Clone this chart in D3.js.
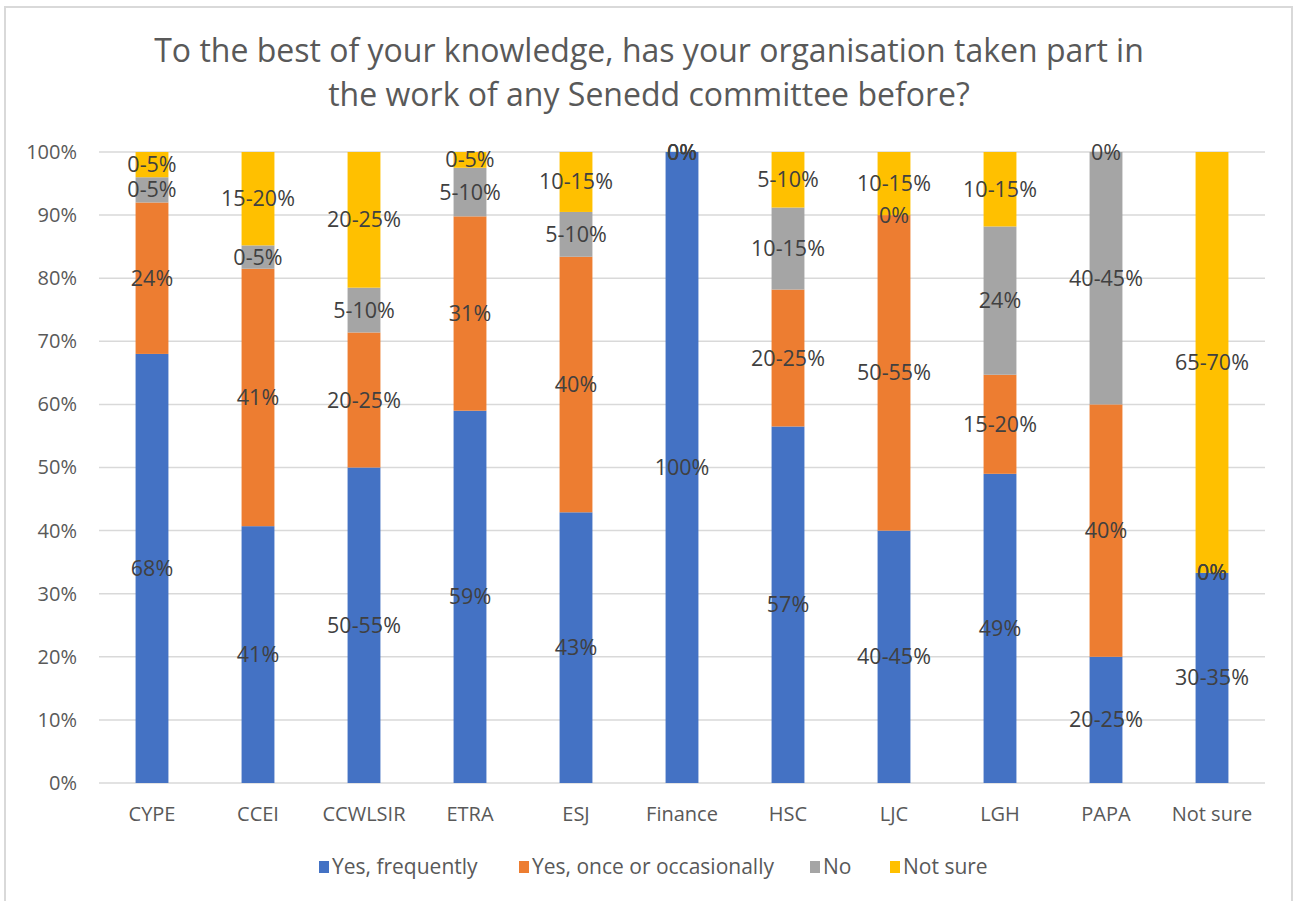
<!DOCTYPE html>
<html>
<head>
<meta charset="utf-8">
<script src="https://cdn.jsdelivr.net/npm/d3@7"></script>
<style>
    html, body { margin: 0; padding: 0; background: #fff; }
    svg { display: block; font-family: "Open Sans", "Noto Sans", sans-serif; }
</style>
</head>
<body>
<svg id="chart" width="1295" height="901"></svg>
<script>
const categories = ['CYPE', 'CCEI', 'CCWLSIR', 'ETRA', 'ESJ', 'Finance', 'HSC', 'LJC', 'LGH', 'PAPA', 'Not sure'];
const seriesNames = ['Yes, frequently', 'Yes, once or occasionally', 'No', 'Not sure'];
const seriesColors = ['#4472c4', '#ed7d31', '#a5a5a5', '#ffc000'];

// share of each answer per committee (%)
const yesFrequently  = [68, 40.7, 50, 59, 42.9, 100, 56.5, 40, 49, 20, 33.3];
const yesOccasional  = [24, 40.8, 21.4, 30.8, 40.5, 0, 21.7, 50, 15.7, 40, 0];
const no             = [4, 3.7, 7.1, 7.7, 7.1, 0, 13.0, 0, 23.5, 40, 0];
const notSure        = [4, 14.8, 21.5, 2.5, 9.5, 0, 8.8, 10, 11.8, 0, 66.7];

// data labels as shown on the chart
const labelsFrequently = ['68%', '41%', '50-55%', '59%', '43%', '100%', '57%', '40-45%', '49%', '20-25%', '30-35%'];
const labelsOccasional = ['24%', '41%', '20-25%', '31%', '40%', '0%', '20-25%', '50-55%', '15-20%', '40%', '0%'];
const labelsNo         = ['0-5%', '0-5%', '5-10%', '5-10%', '5-10%', '0%', '10-15%', '0%', '24%', '40-45%', '0%'];
const labelsNotSure    = ['0-5%', '15-20%', '20-25%', '0-5%', '10-15%', '0%', '5-10%', '10-15%', '10-15%', '0%', '65-70%'];

const yTicks = [0, 10, 20, 30, 40, 50, 60, 70, 80, 90, 100];

const values = [yesFrequently, yesOccasional, no, notSure];
const labels = [labelsFrequently, labelsOccasional, labelsNo, labelsNotSure];

const svg = d3.select('#chart');
const W = 1295, H = 901;
const plot = { left: 99, right: 1265, top: 152, bottom: 783 };

// chart border
svg.append('rect')
    .attr('x', 5).attr('y', 7)
    .attr('width', 1287).attr('height', H + 10)
    .attr('fill', '#fff')
    .attr('stroke', '#d9d9d9')
    .attr('stroke-width', 2);

// title
const title = svg.append('text')
    .attr('text-anchor', 'middle')
    .attr('fill', '#595959')
    .attr('font-size', 32);
title.append('tspan').attr('x', 649).attr('y', 62)
    .text('To the best of your knowledge, has your organisation taken part in');
title.append('tspan').attr('x', 649).attr('y', 106)
    .text('the work of any Senedd committee before?');

const x = d3.scaleBand()
    .domain(categories)
    .range([plot.left, plot.right])
    .paddingInner(0.69)
    .paddingOuter(0.345);

const y = d3.scaleLinear()
    .domain([0, 100])
    .range([plot.bottom, plot.top]);

// gridlines
svg.append('g')
    .selectAll('line')
    .data(yTicks)
    .join('line')
    .attr('x1', plot.left).attr('x2', plot.right)
    .attr('y1', d => y(d)).attr('y2', d => y(d))
    .attr('stroke', '#d9d9d9')
    .attr('stroke-width', 1.5);

// y axis labels
const yAxis = svg.append('g')
    .attr('transform', `translate(${plot.left - 22},0)`)
    .call(d3.axisLeft(y).tickValues(yTicks).tickSize(0).tickPadding(0).tickFormat(d => d + '%'));
yAxis.select('.domain').remove();
yAxis.selectAll('text')
    .attr('fill', '#595959')
    .attr('font-size', 20)
    .attr('font-family', '"Open Sans", sans-serif');

// x axis labels
const xAxis = svg.append('g')
    .attr('transform', `translate(0,${plot.bottom})`)
    .call(d3.axisBottom(x).tickSize(0).tickPadding(24));
xAxis.select('.domain').remove();
xAxis.selectAll('text')
    .attr('fill', '#595959')
    .attr('font-size', 20)
    .attr('font-family', '"Open Sans", sans-serif');

// stack
const table = categories.map((c, i) => {
    const row = { category: c };
    seriesNames.forEach((s, k) => { row[s] = values[k][i]; });
    return row;
});
const stacked = d3.stack().keys(seriesNames)(table);

const layers = svg.append('g')
    .selectAll('g')
    .data(stacked)
    .join('g')
    .attr('fill', (d, k) => seriesColors[k]);

layers.selectAll('rect')
    .data(d => d)
    .join('rect')
    .attr('x', d => x(d.data.category))
    .attr('width', x.bandwidth())
    .attr('y', d => y(d[1]))
    .attr('height', d => y(d[0]) - y(d[1]));

// data labels
const labelG = svg.append('g');
stacked.forEach((layer, k) => {
    labelG.selectAll(null)
        .data(layer)
        .join('text')
        .attr('x', d => x(d.data.category) + x.bandwidth() / 2)
        .attr('y', d => y((d[0] + d[1]) / 2))
        .attr('dy', '0.35em')
        .attr('text-anchor', 'middle')
        .attr('fill', '#404040')
        .attr('font-size', 21.5)
        .text((d, i) => labels[k][i]);
});

// legend
const legendItems = [
    { name: seriesNames[0], color: seriesColors[0], x: 319 },
    { name: seriesNames[1], color: seriesColors[1], x: 519 },
    { name: seriesNames[2], color: seriesColors[2], x: 810 },
    { name: seriesNames[3], color: seriesColors[3], x: 890 }
];
const legend = svg.append('g');
const li = legend.selectAll('g')
    .data(legendItems)
    .join('g')
    .attr('transform', d => `translate(${d.x},867)`);
li.append('rect')
    .attr('x', 0).attr('y', -6)
    .attr('width', 10).attr('height', 12)
    .attr('fill', d => d.color);
li.append('text')
    .attr('x', 13)
    .attr('dy', '0.35em')
    .attr('fill', '#595959')
    .attr('font-size', 21)
    .text(d => d.name);
</script>
</body>
</html>
